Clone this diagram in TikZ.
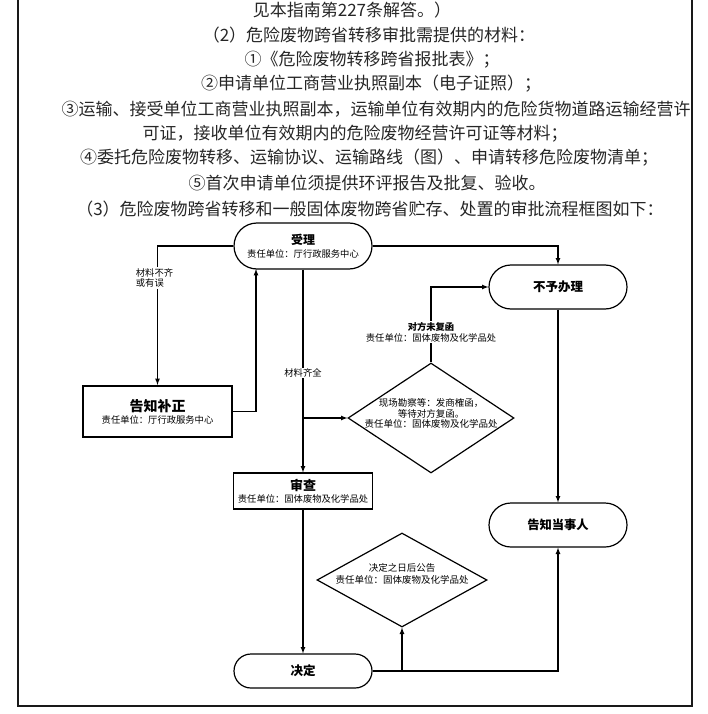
\documentclass[tikz,border=0pt]{standalone}
\usepackage{fontspec}
\setmainfont{Noto Sans CJK SC}
\usetikzlibrary{arrows}
\usetikzlibrary{shapes.geometric}
\usetikzlibrary{positioning}

\newcommand{\bodyfont}{\fontsize{17}{20}\selectfont}
\newcommand{\subfont}{\fontsize{9.3}{10.8}\selectfont}

\begin{document}
\begin{tikzpicture}[x=1pt, y=-1pt, line join=miter,
 term/.style={draw, line width=1.2pt, rounded corners=22pt, minimum width=138pt, minimum height=44pt, inner sep=0pt, align=center},
 box/.style={draw, line width=1.2pt, minimum width=139pt, inner sep=1pt, align=center},
 dia/.style={draw, diamond, line width=1.2pt, inner sep=0pt},
 lbl/.style={fill=white, inner sep=1pt, font=\subfont, align=center},
 flow/.style={line width=1.2pt, -latex},
 para/.style={font=\bodyfont, text=black!85, inner sep=0pt}
]
\useasboundingbox (0,0) rectangle (708,714);
% page frame
\draw[line width=1.3pt, black!90] (18,0) -- (18,706) -- (692,706) -- (692,0);

% text above the chart
\node[para] (t1) at (352,10) {见本指南第227条解答。）};
\node[para] (t2) at (369,35) {（2）危险废物跨省转移审批需提供的材料：};
\node[para] (t3) at (372,60) {①《危险废物转移跨省报批表》；};
\node[para] (t4) at (371,84) {②申请单位工商营业执照副本（电子证照）；};
\node[para] (t5) at (376,109) {③运输、接受单位工商营业执照副本，运输单位有效期内的危险货物道路运输经营许};
\node[para] (t6) at (355,134) {可证，接收单位有效期内的危险废物经营许可证等材料；};
\node[para] (t7) at (369,158) {④委托危险废物转移、运输协议、运输路线（图）、申请转移危险废物清单；};
\node[para] (t8) at (367,183) {⑤首次申请单位须提供环评报告及批复、验收。};
\node[para] (t9) at (370,209) {（3）危险废物跨省转移和一般固体废物跨省贮存、处置的审批流程框图如下：};

% chart nodes
\node[term, minimum height=46pt, rounded corners=23pt] (accept) at (303,246)
 {{\bfseries\fontsize{12}{14}\selectfont 受理}\\[1pt]{\subfont 责任单位：厅行政服务中心}};
\node[box, line width=2pt, minimum width=149pt, minimum height=51pt] (correct) at (157.5,411.5)
 {{\bfseries\fontsize{14}{16}\selectfont 告知补正}\\{\subfont 责任单位：厅行政服务中心}};
\node[term] (refuse) at (558,287) {\bfseries\fontsize{12.5}{14}\selectfont 不予办理};
\node[term] (notify) at (558,525) {\bfseries\fontsize{12.3}{14}\selectfont 告知当事人};
\node[box, minimum height=36pt] (review) at (303,491)
 {{\bfseries\fontsize{13}{14}\selectfont 审查}\\{\subfont 责任单位：固体废物及化学品处}};
\node[term, minimum height=34pt, rounded corners=17pt] (decide) at (303,671) {\bfseries\fontsize{12.5}{14}\selectfont 决定};
\node[dia, minimum width=166pt, minimum height=110pt,
 label={[font=\fontsize{9.5}{10.6}\selectfont, align=center, yshift=4.5pt]center:现场勘察等：发商榷函，\\等待对方复函。\\责任单位：固体废物及化学品处}] (survey) at (431,418) {};
\node[dia, minimum width=170pt, minimum height=94pt,
 label={[font=\fontsize{9.5}{12}\selectfont, align=center, yshift=6pt]center:决定之日后公告\\责任单位：固体废物及化学品处}] (announce) at (402,580) {};

\coordinate (back) at (256,269);
\coordinate (split) at (303,418);
\coordinate (fork) at (402,671);

% connectors
\draw[flow] (accept.west) -| (correct.north) node[lbl, align=left, pos=0.615, xshift=-3pt] {材料不齐\\或有误};
\draw[flow] (correct.east) -| (back);
\draw[flow] (accept.south) -- (review.north) node[lbl, pos=0.51] {材料齐全};
\draw[flow] (split) -- (survey.west);
\draw[flow] (accept.east) -| (refuse.north);
\draw[flow] (survey.north) |- (refuse.west) node[lbl, pos=0.2] {{\bfseries 对方未复函}\\责任单位：固体废物及化学品处};
\draw[flow] (refuse.south) -- (notify.north);
\draw[flow] (review.south) -- (decide.north);
\draw[flow] (decide.east) -| (notify.south);
\draw[flow] (fork) -- (announce.south);
\end{tikzpicture}
\end{document}
